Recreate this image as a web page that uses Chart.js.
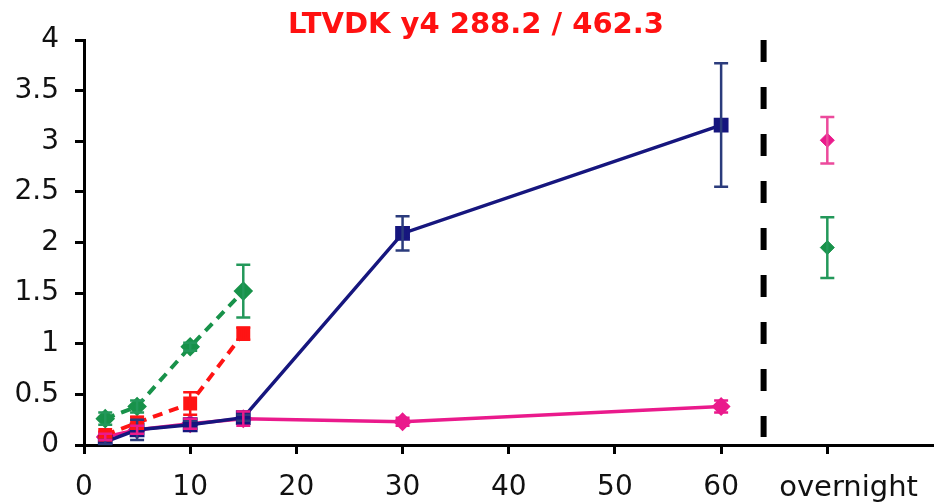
<!DOCTYPE html>
<html>
<head>
<meta charset="utf-8">
<script src="https://cdn.jsdelivr.net/npm/chart.js@4/dist/chart.umd.min.js"></script>
<style>
  html, body { margin: 0; padding: 0; background: #fff; }
  #wrap { width: 945px; height: 503px; position: relative; }
</style>
</head>
<body>
<div id="wrap"><canvas id="chart"></canvas></div>
<script>
// time points (min) and per-series means / error half-widths
const times = [2, 5, 10, 15, 30, 60];
const shortTimes = [2, 5, 10, 15];

const navyMean = [0.03, 0.15, 0.20, 0.27, 2.09, 3.16];
const navyErr = [0.02, 0.10, 0.04, 0.03, 0.17, 0.61];

const pinkMean = [0.08, 0.15, 0.21, 0.26, 0.23, 0.38];
const pinkErr = [0.03, 0.04, 0.05, 0.07, 0.04, 0.06];

const greenMean = [0.26, 0.38, 0.97, 1.52];
const greenErr = [0.06, 0.06, 0.04, 0.26];

const redMean = [0.10, 0.22, 0.41, 1.10];
const redErr = [0.03, 0.06, 0.11, 0.06];

// overnight samples sit at their own x slot
const overnightX = 70;
const overnightLabelX = 72;
const pinkOvernight = 3.01, pinkOvernightErr = 0.23;
const greenOvernight = 1.95, greenOvernightErr = 0.30;

const dividerX = 64;
const dividerRange = [4, 0.08];

const xTickValues = [0, 10, 20, 30, 40, 50, 60];
const yTickValues = [0, 0.5, 1, 1.5, 2, 2.5, 3, 3.5, 4];

const NAVY = "#16167e";
const PINK = "#ea1a8c";
const GREEN = "#18924a";
const RED = "#ff1414";
const TICK_FONT = { family: "DejaVu Sans", size: 28 };

const pts = (xs, ys) => xs.map((x, i) => ({ x, y: ys[i] }));

const errorBars = {
  id: "errorBars",
  afterDatasetsDraw(chart) {
    const { ctx, scales: { x, y } } = chart;
    ctx.save();
    chart.data.datasets.forEach((ds) => {
      if (!ds.errors) return;
      ctx.strokeStyle = ds.errorColor || ds.borderColor;
      ctx.lineWidth = 2.5;
      ctx.setLineDash([]);
      ds.data.forEach((p, i) => {
        const e = ds.errors[i];
        const px = x.getPixelForValue(p.x);
        const top = y.getPixelForValue(p.y + e);
        const bot = y.getPixelForValue(p.y - e);
        ctx.beginPath();
        ctx.moveTo(px, top); ctx.lineTo(px, bot);
        ctx.moveTo(px - 7, top); ctx.lineTo(px + 7, top);
        ctx.moveTo(px - 7, bot); ctx.lineTo(px + 7, bot);
        ctx.stroke();
      });
    });
    ctx.restore();
  },
};

const overnightLabel = {
  id: "overnightLabel",
  afterDraw(chart) {
    const { ctx, scales: { x } } = chart;
    ctx.save();
    ctx.font = "29px 'DejaVu Sans'";
    ctx.fillStyle = "#111";
    ctx.textAlign = "center";
    ctx.textBaseline = "alphabetic";
    ctx.fillText("overnight", x.getPixelForValue(overnightLabelX), 496);
    ctx.restore();
  },
};

new Chart(document.getElementById("chart"), {
  type: "scatter",
  data: {
    datasets: [
      {
        data: [{ x: dividerX, y: dividerRange[0] }, { x: dividerX, y: dividerRange[1] }],
        showLine: true,
        borderColor: "#000",
        borderWidth: 6,
        borderDash: [22, 25],
        pointRadius: 0,
      },
      {
        data: pts(shortTimes, greenMean),
        errors: greenErr,
        showLine: true,
        borderColor: GREEN,
        backgroundColor: GREEN,
        borderWidth: 4,
        borderDash: [10, 7],
        pointStyle: "rectRot",
        pointRadius: 7,
        errorColor: "#23985a",
      },
      {
        data: pts(shortTimes, redMean),
        errors: redErr,
        showLine: true,
        borderColor: RED,
        backgroundColor: RED,
        borderWidth: 4,
        borderDash: [10, 7],
        pointStyle: "rect",
        pointRadius: 7,
      },
      {
        data: pts(times, navyMean),
        errors: navyErr,
        showLine: true,
        borderColor: NAVY,
        backgroundColor: NAVY,
        borderWidth: 3.5,
        pointStyle: "rect",
        pointRadius: 8,
        errorColor: "#2b3b7c",
      },
      {
        data: pts(times, pinkMean),
        errors: pinkErr,
        showLine: true,
        borderColor: PINK,
        backgroundColor: PINK,
        borderWidth: 3.5,
        pointStyle: "rectRot",
        pointRadius: 7,
      },
      {
        data: [{ x: overnightX, y: pinkOvernight }],
        errors: [pinkOvernightErr],
        borderColor: PINK,
        backgroundColor: PINK,
        pointStyle: "rectRot",
        pointRadius: 7,
        errorColor: "#ec4a9c",
      },
      {
        data: [{ x: overnightX, y: greenOvernight }],
        errors: [greenOvernightErr],
        borderColor: GREEN,
        backgroundColor: GREEN,
        pointStyle: "rectRot",
        pointRadius: 7,
        errorColor: "#23985a",
      },
    ],
  },
  options: {
    responsive: true,
    maintainAspectRatio: false,
    animation: false,
    layout: { padding: { left: 15, right: 8, top: 0, bottom: 0 } },
    plugins: {
      legend: { display: false },
      tooltip: { enabled: false },
      title: {
        display: true,
        text: "LTVDK y4 288.2 / 462.3",
        color: "#ff1111",
        font: { family: "DejaVu Sans", size: 29, weight: "bold", lineHeight: 1 },
        padding: { top: 11, bottom: 0 },
      },
    },
    elements: { point: { borderWidth: 1 } },
    scales: {
      x: {
        type: "linear",
        min: 0,
        max: 80,
        afterBuildTicks(scale) {
          scale.ticks = xTickValues.concat([overnightX]).map((v) => ({ value: v }));
        },
        afterFit(scale) { scale.height = 58; },
        ticks: {
          font: TICK_FONT,
          color: "#111",
          padding: 17,
          maxRotation: 0,
          autoSkip: false,
          callback: (v) => (xTickValues.includes(v) ? String(v) : ""),
        },
        grid: { drawOnChartArea: false, drawTicks: true, tickLength: 9, tickWidth: 3, tickColor: "#000" },
        border: { display: true, color: "#000", width: 3 },
      },
      y: {
        type: "linear",
        min: 0,
        max: 4,
        afterBuildTicks(scale) {
          scale.ticks = yTickValues.map((v) => ({ value: v }));
        },
        afterFit(scale) { scale.width = 69; },
        ticks: { font: TICK_FONT, color: "#111", padding: 16, callback: (v) => String(v) },
        grid: { drawOnChartArea: false, drawTicks: true, tickLength: 9, tickWidth: 3, tickColor: "#000" },
        border: { display: true, color: "#000", width: 3 },
      },
    },
  },
  plugins: [errorBars, overnightLabel],
});
</script>
</body>
</html>
